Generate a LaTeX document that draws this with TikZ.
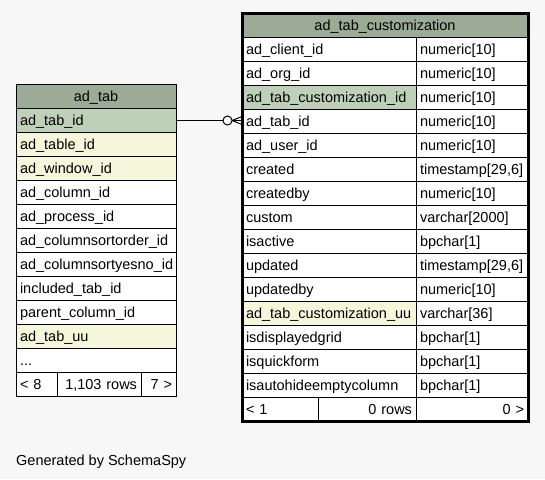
\documentclass[tikz,border=0pt]{standalone}
\usepackage{fontspec}
\setmainfont{Liberation Sans}
\usetikzlibrary{calc}
\definecolor{headc}{HTML}{9BAB96}
\definecolor{pkc}{HTML}{BED1B8}
\definecolor{idxc}{HTML}{F4F7DA}
\definecolor{bgc}{HTML}{F7F7F7}
\tikzset{
  cell/.style={draw,fill=white,line width=1pt,anchor=north west,outer sep=0pt,
    inner xsep=4pt,inner ysep=0pt,minimum height=24pt,
    text height=10.5pt,text depth=.5pt,font=\fontsize{14.5}{17}\selectfont},
  headcell/.style={cell,fill=headc,align=center}
}
\begin{document}
\begin{tikzpicture}[x=1pt,y=-1pt]
\path[fill=bgc] (0,0) rectangle (545,479);
\node[headcell,text width=152pt] (lh) at (16,84) {ad\_tab};
\foreach \n/\c [count=\i] in {ad\_tab\_id/pkc,ad\_table\_id/idxc,ad\_window\_id/idxc,
  ad\_column\_id/white,ad\_process\_id/white,ad\_columnsortorder\_id/white,
  ad\_columnsortyesno\_id/white,included\_tab\_id/white,parent\_column\_id/white,
  ad\_tab\_uu/idxc,{.{}.{}.}/white}
  \node[cell,fill=\c,text width=152pt,align=left] (l\i) at (16,{84+24*\i}) {\n};
\node[cell,text width=33pt,align=left] (lf1) at (16,372) {< 8};
\node[cell,text width=76pt,align=right] (lf2) at (57,372) {1,103 rows};
\node[cell,text width=27pt,align=right] (lf3) at (141,372) {7 >};
\node[headcell,text width=278pt] (rh) at (242,13) {ad\_tab\_customization};
\foreach \n/\t/\c [count=\i] in {ad\_client\_id/numeric[10]/white,ad\_org\_id/numeric[10]/white,
  ad\_tab\_customization\_id/numeric[10]/pkc,ad\_tab\_id/numeric[10]/white,
  ad\_user\_id/numeric[10]/white,created/{timestamp[29,6]}/white,createdby/numeric[10]/white,
  custom/varchar[2000]/white,isactive/bpchar[1]/white,updated/{timestamp[29,6]}/white,
  updatedby/numeric[10]/white,ad\_tab\_customization\_uu/varchar[36]/idxc,
  isdisplayedgrid/bpchar[1]/white,isquickform/bpchar[1]/white,
  isautohideemptycolumn/bpchar[1]/white}
{
  \node[cell,fill=\c,text width=166pt,align=left] (r\i) at (242,{13+24*\i}) {\n};
  \node[cell,text width=104pt,align=left] (rt\i) at (416,{13+24*\i}) {\t};
}
\node[cell,text width=68pt,align=left] (rf1) at (242,397) {< 1};
\node[cell,text width=90pt,align=right] (rf2) at (318,397) {0 rows};
\node[cell,text width=104pt,align=right] (rf3) at (416,397) {0 >};
\draw[line width=3pt] (rh.north west) rectangle (rf3.south east);
\coordinate (fkend) at ($(l1.east -| r4.west)+(0,.5)$);
\coordinate (crow) at ($(fkend)+(-10,0)$);
\draw[line width=1pt] ($(l1.east)+(0,.5)$) -- (fkend);
\draw[line width=1pt] (crow) -- ($(fkend)+(0,-4)$);
\draw[line width=1pt] (crow) -- ($(fkend)+(0,4)$);
\draw[line width=1pt,fill=white] ($(crow)+(-4.5,0)$) circle (4.5);
\node[anchor=base west,inner sep=0pt,font=\fontsize{14.5}{17}\selectfont] (gen) at (16,465) {Generated by SchemaSpy};
\end{tikzpicture}
\end{document}
